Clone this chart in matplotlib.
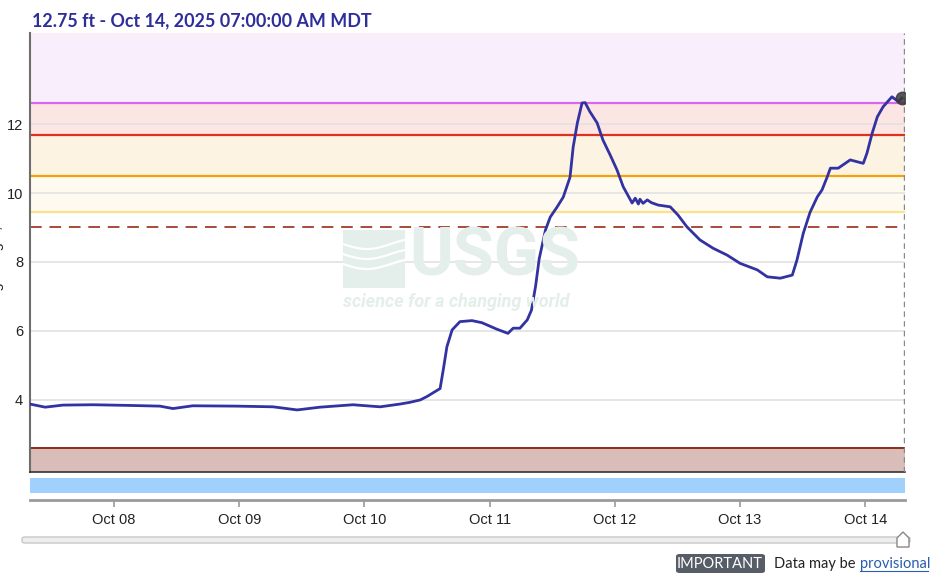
import matplotlib
matplotlib.use("Agg")
import matplotlib.pyplot as plt
import matplotlib.dates as mdates
from matplotlib.patches import Rectangle, FancyBboxPatch, Polygon
from datetime import datetime, timedelta
import numpy as np

# ---------------- data ----------------
base_time = datetime(2025, 10, 8, 0, 0)
hours = [-16.1, -13.2, -9.8, -4.0, 3.1, 8.8, 11.3, 15.1, 23.6, 30.5, 35.1, 39.5,
         45.8, 51.0, 54.8, 56.7, 58.7, 60.0, 62.5, 63.1, 63.8, 64.8, 66.3, 68.6,
         70.5, 73.4, 75.5, 76.5, 77.8, 79.2, 80.0, 80.8, 81.5, 82.7, 83.6, 84.9,
         86.1, 87.4, 88.0, 88.8, 89.7, 90.3, 91.2, 92.6, 93.7, 95.1, 96.4, 97.6,
         99.3, 99.9, 100.5, 100.8, 101.4, 102.2, 103.0, 104.3, 106.6, 108.1, 109.8,
         112.3, 114.8, 117.5, 120.0, 123.3, 125.2, 127.7, 130.0, 130.9, 132.1,
         133.4, 134.8, 135.7, 136.7, 137.3, 138.8, 141.1, 143.6, 144.3, 145.3,
         146.3, 147.4, 149.1, 150.3, 151.0]
stage_ft = [3.88, 3.79, 3.85, 3.86, 3.84, 3.82, 3.75, 3.83, 3.82, 3.80, 3.71, 3.79,
            3.86, 3.80, 3.88, 3.93, 4.00, 4.10, 4.33, 4.87, 5.54, 6.03, 6.27, 6.30,
            6.24, 6.05, 5.93, 6.08, 6.08, 6.32, 6.60, 7.30, 8.10, 8.93, 9.30, 9.59,
            9.88, 10.46, 11.33, 12.03, 12.61, 12.62, 12.36, 12.03, 11.54, 11.10, 10.67, 10.18,
            9.71, 9.85, 9.68, 9.82, 9.70, 9.80, 9.72, 9.65, 9.60, 9.36, 9.02,
            8.64, 8.40, 8.20, 7.96, 7.77, 7.57, 7.53, 7.62, 8.06, 8.83,
            9.44, 9.89, 10.09, 10.47, 10.72, 10.72, 10.96, 10.86, 11.15, 11.73,
            12.21, 12.50, 12.79, 12.65, 12.75]

# threshold levels (ft)
level_major = 12.61      # magenta
level_moderate = 11.68   # red
level_minor = 10.49      # orange
level_action = 9.45      # yellow
level_flood_dashed = 9.0
level_low = 2.6
y_ticks = [4, 6, 8, 10, 12]
title_text = "12.75 ft - Oct 14, 2025 07:00:00 AM MDT"

times = [base_time + timedelta(hours=h) for h in hours]
x_start = base_time + timedelta(hours=-16.1)
x_end = base_time + timedelta(hours=151.6)
y_min, y_max = 1.91, 14.64

# ---------------- figure ----------------
W, H = 932, 577
fig = plt.figure(figsize=(W / 100, H / 100), dpi=100)
fig.patch.set_facecolor("white")

def fx(px):
    return px / W

def fy(py):
    return 1 - py / H

ax = fig.add_axes([fx(30), fy(472), fx(905) - fx(30), fy(33) - fy(472)])
ax.set_xlim(x_start, x_end)
ax.set_ylim(y_min, y_max)

# bands
bands = [
    (level_major, y_max, "#f9eefb"),
    (level_moderate, level_major, "#fce6e4"),
    (level_minor, level_moderate, "#fcf3e3"),
    (level_action, level_minor, "#fffaf0"),
    (y_min, level_low, "#d8bdb8"),
]
for lo, hi, c in bands:
    ax.axhspan(lo, hi, color=c, zorder=0, lw=0)

for yv in y_ticks:
    ax.axhline(yv, color="#e2e2e2", lw=1.2, zorder=1)

ax.axhline(level_major, color="#d966ee", lw=1.6, zorder=2)
ax.axhline(level_moderate, color="#e0301e", lw=1.6, zorder=2)
ax.axhline(level_minor, color="#f0a30a", lw=1.6, zorder=2)
ax.axhline(level_action, color="#fbe38c", lw=1.6, zorder=2)
ax.axhline(level_flood_dashed, color="#a84a3a", lw=1.4, ls=(0, (6, 4)), zorder=2)
ax.axhline(level_low, color="#8b2a1a", lw=1.4, zorder=2)

# watermark
wm = "#e4eeea"
fig.text(fx(409), fy(258), "USGS", fontsize=48, fontweight="bold", color=wm,
         family=["Roboto", "DejaVu Sans"], ha="left",
         va="center", zorder=0.5)
fig.text(fx(343), fy(302), "science for a changing world", fontsize=13.0,
         fontweight="bold", style="italic", color=wm,
         family=["Roboto", "DejaVu Sans"], ha="left", va="center", zorder=0.5)
logo = Rectangle((fx(343), fy(288)), fx(62), fy(230) - fy(288),
                 transform=fig.transFigure, color=wm, zorder=0.5, lw=0)
fig.patches.append(logo)
wx = np.linspace(343, 405, 30)
for off in [244, 254, 264]:
    wy = off + 5 * np.sin((wx - 343) / 62 * np.pi * 1.3)
    fig.lines.append(plt.Line2D(fx(wx), fy(wy), transform=fig.transFigure,
                                color="white", lw=1.6, zorder=0.6))

ax.set_facecolor("none")
ax.patch.set_alpha(0)

ax.plot(times, stage_ft, color="#3232a2", lw=2.0, zorder=5, solid_joinstyle="round")
ax.plot([times[-1]], [stage_ft[-1]], "o", ms=9, color="#3a3a3a", alpha=0.85, zorder=6)
ax.axvline(base_time + timedelta(hours=151.5), color="#888888", lw=1.0,
           ls=(0, (4, 3)), zorder=4)

ax.set_yticks(y_ticks)
ax.set_yticklabels([str(v) for v in y_ticks], fontsize=10.5, color="#222222",
                   family=["Liberation Sans", "DejaVu Sans"])
ax.tick_params(axis="y", length=0, pad=5)
ax.set_xticks([])
for s in ["top", "right"]:
    ax.spines[s].set_visible(False)
ax.spines["left"].set_color("#6e6e6e")
ax.spines["left"].set_linewidth(1.5)
ax.spines["bottom"].set_color("#333333")
ax.spines["bottom"].set_linewidth(1.2)

# lower bar axis
ax2 = fig.add_axes([fx(30), fy(500), fx(905) - fx(30), fy(478) - fy(500)])
ax2.set_xlim(x_start, x_end)
ax2.set_ylim(0, 1)
ax2.add_patch(Rectangle((0, 7 / 22), 1, 15 / 22, transform=ax2.transAxes,
                        color="#a0d0fc", lw=0))
for s in ["top", "right", "left"]:
    ax2.spines[s].set_visible(False)
ax2.spines["bottom"].set_color("#9a9a9a")
ax2.spines["bottom"].set_linewidth(2)
ax2.set_yticks([])
ax2.xaxis.set_major_locator(mdates.DayLocator())
ax2.xaxis.set_major_formatter(mdates.DateFormatter("%b %d"))
ax2.tick_params(axis="x", length=5, width=1.2, color="#9a9a9a", pad=4,
                labelsize=10.5, labelcolor="#222222")
for lab in ax2.get_xticklabels():
    lab.set_family(["Liberation Sans", "DejaVu Sans"])

# title
fig.text(fx(32), fy(21), title_text, fontsize=12.9, fontweight="bold",
         color="#2e2e9a", family=["Lato", "DejaVu Sans"], ha="left", va="center")

# rotated y label (mostly off-canvas, as in the reference)
fig.text(fx(-3), fy(262), "Gage height, ft", rotation=90, fontsize=10.5,
         color="#222222", ha="center", va="center",
         family=["Liberation Sans", "DejaVu Sans"])

# slider
track = FancyBboxPatch((fx(22), fy(543)), fx(888), fy(537) - fy(543),
                       boxstyle="round,pad=0,rounding_size=0.003",
                       transform=fig.transFigure, fc="#eeeeee", ec="#c8c8c8", lw=1)
fig.patches.append(track)
hx, hy = 903, 540
handle = Polygon([(fx(hx - 6), fy(hy + 7)), (fx(hx + 6), fy(hy + 7)),
                  (fx(hx + 6), fy(hy - 2)), (fx(hx), fy(hy - 8)),
                  (fx(hx - 6), fy(hy - 2))], closed=True,
                 transform=fig.transFigure, fc="white", ec="#888888", lw=1)
fig.patches.append(handle)

# IMPORTANT badge and note
badge = FancyBboxPatch((fx(676), fy(573)), fx(89), fy(554) - fy(573),
                       boxstyle="round,pad=0,rounding_size=0.004",
                       transform=fig.transFigure, fc="#565d66", ec="none")
fig.patches.append(badge)
fig.text(fx(720), fy(564), "IMPORTANT", fontsize=10.5, color="white", ha="center",
         va="center", family=["Lato", "DejaVu Sans"])
fig.text(fx(774), fy(564), "Data may be", fontsize=10.5, color="#222222", ha="left",
         va="center", family=["Lato", "DejaVu Sans"])
fig.text(fx(860), fy(564), "provisional", fontsize=10.5, color="#2a5db0", ha="left",
         va="center", family=["Lato", "DejaVu Sans"])
fig.lines.append(plt.Line2D([fx(860), fx(928)], [fy(571), fy(571)],
                            transform=fig.transFigure, color="#2a5db0", lw=0.8))

fig.savefig("out.png", dpi=100)
